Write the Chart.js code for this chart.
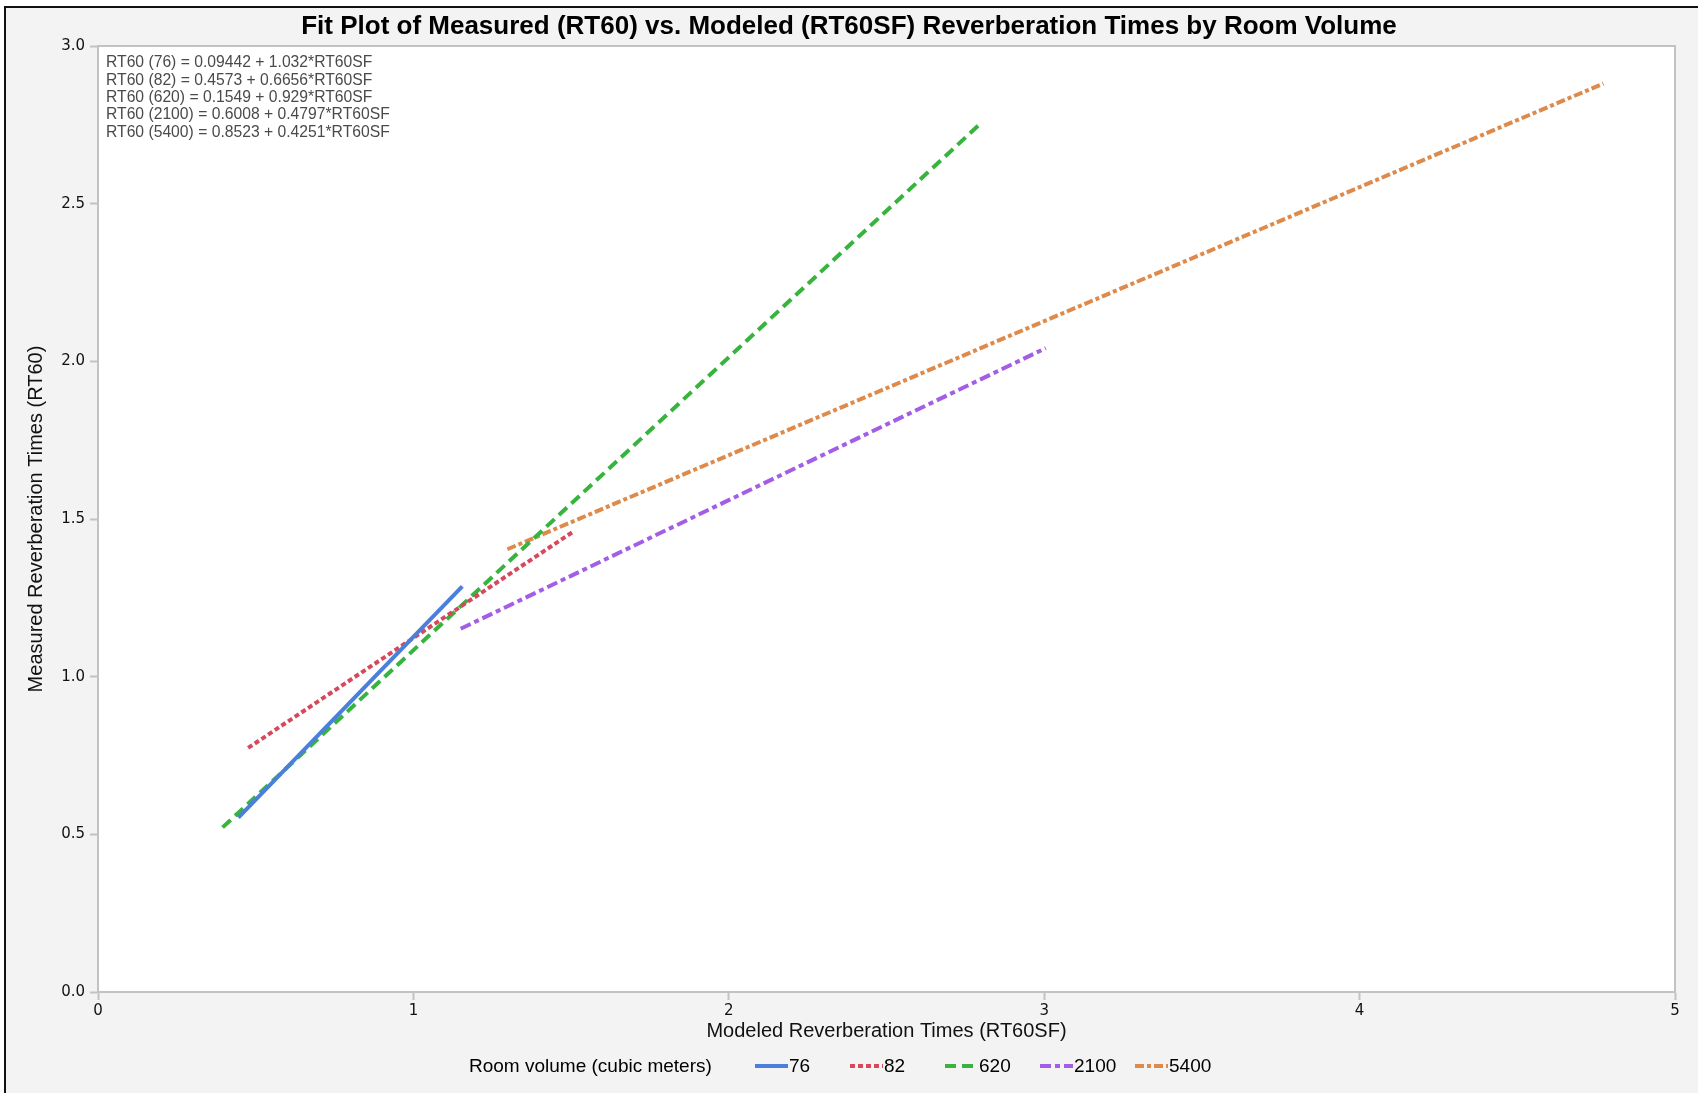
<!DOCTYPE html>
<html>
<head>
    <title>Fit Plot of Reverberation Times</title>
    <script src="https://cdn.jsdelivr.net/npm/chart.js"></script>
    <style>
        html, body {
            margin: 0;
            padding: 0;
            background-color: #ffffff;
        }
        .chart-container {
            position: relative;
            width: 1698px;
            height: 1093px;
        }
    </style>
</head>
<body>
    <div class="chart-container">
        <canvas id="fitChart"></canvas>
    </div>

    <script>
        // Room volumes (cubic meters), one fitted line each
        const volumes = ['76', '82', '620', '2100', '5400'];

        // Fit line end points: modeled RT60SF (x) and measured RT60 (y)
        const fit76 = [{ x: 0.445, y: 0.553 }, { x: 1.155, y: 1.286 }];
        const fit82 = [{ x: 0.476, y: 0.774 }, { x: 1.510, y: 1.462 }];
        const fit620 = [{ x: 0.395, y: 0.522 }, { x: 2.800, y: 2.756 }];
        const fit2100 = [{ x: 1.150, y: 1.152 }, { x: 3.005, y: 2.042 }];
        const fit5400 = [{ x: 1.298, y: 1.404 }, { x: 4.773, y: 2.881 }];

        // Regression equations printed in the plot corner
        const equations = [
            'RT60 (76) = 0.09442 + 1.032*RT60SF',
            'RT60 (82) = 0.4573 + 0.6656*RT60SF',
            'RT60 (620) = 0.1549 + 0.929*RT60SF',
            'RT60 (2100) = 0.6008 + 0.4797*RT60SF',
            'RT60 (5400) = 0.8523 + 0.4251*RT60SF'
        ];

        const xTicks = [0, 1, 2, 3, 4, 5];
        const yTicks = [0, 0.5, 1, 1.5, 2, 2.5, 3];

        const lineColors = ['#4a80db', '#d6495c', '#37b43d', '#a45ee6', '#dd8a4b'];
        const lineDashes = [[], [5, 3], [11, 6], [11, 4, 5, 4], [9, 3, 4, 3]];
        const fits = [fit76, fit82, fit620, fit2100, fit5400];

        const datasets = volumes.map((v, i) => ({
            label: v,
            data: fits[i],
            showLine: true,
            borderColor: lineColors[i],
            backgroundColor: lineColors[i],
            borderWidth: 4,
            borderDash: lineDashes[i],
            borderCapStyle: 'butt',
            pointRadius: 0,
            pointHoverRadius: 0,
            fill: false
        }));

        const SANS = '"Liberation Sans", Arial, sans-serif';
        const TICK_FONT = { family: '"DejaVu Sans", sans-serif', size: 15 };

        // Background, frame, title, equations and legend
        const decorations = {
            id: 'decorations',
            beforeDraw(chart) {
                const ctx = chart.ctx;
                const area = chart.chartArea;
                ctx.save();
                ctx.fillStyle = '#ffffff';
                ctx.fillRect(0, 0, chart.width, chart.height);
                ctx.fillStyle = '#f3f3f3';
                ctx.fillRect(5, 7, chart.width - 5, chart.height - 7);
                ctx.strokeStyle = '#111111';
                ctx.lineWidth = 2;
                ctx.beginPath();
                ctx.moveTo(5, chart.height);
                ctx.lineTo(5, 7);
                ctx.lineTo(chart.width, 7);
                ctx.stroke();
                ctx.fillStyle = '#ffffff';
                ctx.fillRect(area.left, area.top, area.right - area.left, area.bottom - area.top);
                ctx.restore();
            },
            afterDraw(chart) {
                const ctx = chart.ctx;
                const area = chart.chartArea;
                ctx.save();

                // plot frame (top and right; left/bottom come from the axes)
                ctx.strokeStyle = '#c2c2c2';
                ctx.lineWidth = 2;
                ctx.beginPath();
                ctx.moveTo(area.left, area.top);
                ctx.lineTo(area.right, area.top);
                ctx.lineTo(area.right, area.bottom);
                ctx.stroke();

                // title
                ctx.fillStyle = '#000000';
                ctx.font = 'bold 26px ' + SANS;
                ctx.textAlign = 'center';
                ctx.textBaseline = 'middle';
                ctx.fillText('Fit Plot of Measured (RT60) vs. Modeled (RT60SF) Reverberation Times by Room Volume', chart.width / 2, 27);

                // equations
                ctx.fillStyle = '#4a4a4a';
                ctx.font = '15.7px ' + SANS;
                ctx.textAlign = 'left';
                equations.forEach((eq, i) => {
                    ctx.fillText(eq, area.left + 8, 63 + i * 17.3);
                });

                // legend
                const ly = 1067;
                ctx.fillStyle = '#000000';
                ctx.font = '19px ' + SANS;
                ctx.fillText('Room volume (cubic meters)', 469, ly);
                chart.data.datasets.forEach((ds, i) => {
                    const sx = 755 + i * 95;
                    ctx.strokeStyle = ds.borderColor;
                    ctx.lineWidth = 4;
                    ctx.lineCap = 'butt';
                    ctx.setLineDash(ds.borderDash);
                    ctx.beginPath();
                    ctx.moveTo(sx, ly - 1);
                    ctx.lineTo(sx + 33, ly - 1);
                    ctx.stroke();
                    ctx.setLineDash([]);
                    ctx.fillStyle = '#000000';
                    ctx.fillText(ds.label, sx + 34, ly);
                });
                ctx.restore();
            }
        };

        const ctx = document.getElementById('fitChart').getContext('2d');
        const fitChart = new Chart(ctx, {
            type: 'scatter',
            data: { datasets: datasets },
            options: {
                responsive: true,
                maintainAspectRatio: false,
                animation: false,
                layout: {
                    padding: { left: 21, right: 23, top: 46, bottom: 47 }
                },
                plugins: {
                    legend: { display: false },
                    title: { display: false },
                    tooltip: { enabled: false }
                },
                scales: {
                    x: {
                        type: 'linear',
                        min: 0,
                        max: 5,
                        afterBuildTicks: (axis) => { axis.ticks = xTicks.map(v => ({ value: v })); },
                        afterFit: (axis) => { axis.height = 54; },
                        grid: {
                            drawOnChartArea: false,
                            drawTicks: true,
                            tickLength: 8,
                            tickColor: '#c2c2c2',
                            tickWidth: 2
                        },
                        border: { display: true, color: '#c2c2c2', width: 2 },
                        ticks: {
                            padding: 2,
                            color: '#111111',
                            font: TICK_FONT,
                            callback: (v) => v.toFixed(0)
                        },
                        title: {
                            display: true,
                            text: 'Modeled Reverberation Times (RT60SF)',
                            color: '#111111',
                            font: { family: SANS, size: 20 },
                            padding: { top: 4, bottom: 3 }
                        }
                    },
                    y: {
                        type: 'linear',
                        min: 0,
                        max: 3,
                        afterBuildTicks: (axis) => { axis.ticks = yTicks.map(v => ({ value: v })); },
                        afterFit: (axis) => { axis.width = 77; },
                        grid: {
                            drawOnChartArea: false,
                            drawTicks: true,
                            tickLength: 8,
                            tickColor: '#c2c2c2',
                            tickWidth: 2
                        },
                        border: { display: true, color: '#c2c2c2', width: 2 },
                        ticks: {
                            padding: 5,
                            color: '#111111',
                            font: TICK_FONT,
                            callback: (v) => v.toFixed(1)
                        },
                        title: {
                            display: true,
                            text: 'Measured Reverberation Times (RT60)',
                            color: '#111111',
                            font: { family: SANS, size: 20 },
                            padding: { top: 3, bottom: 4 }
                        }
                    }
                }
            },
            plugins: [decorations]
        });
    </script>
</body>
</html>
